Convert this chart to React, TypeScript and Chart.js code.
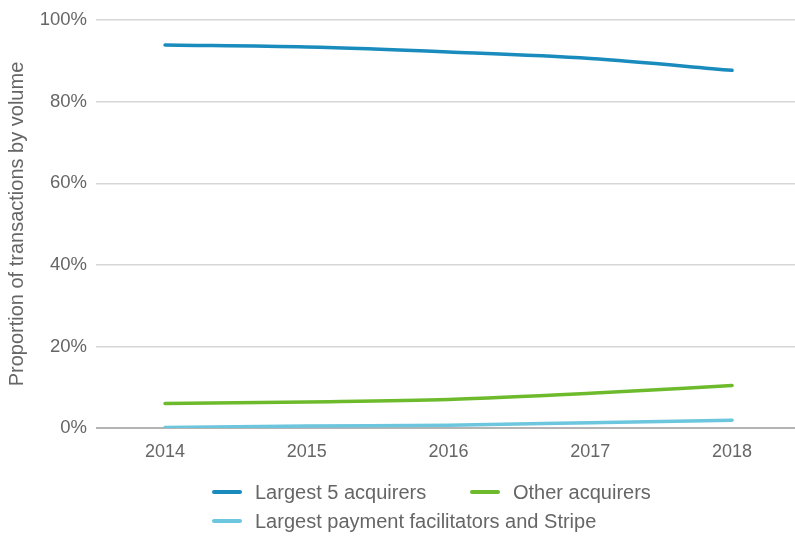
import React, { useEffect, useRef } from "react";
import { Chart, registerables } from "chart.js";

Chart.register(...registerables);

const years = [2014, 2015, 2016, 2017, 2018];
const largest5 = [93.9, 93.4, 92.2, 90.6, 87.7];
const otherAcq = [6.0, 6.4, 7.0, 8.5, 10.4];
const payFac = [0.1, 0.5, 0.7, 1.3, 1.9];
const yTicks = [0, 20, 40, 60, 80, 100];

const seriesNames = ["Largest 5 acquirers", "Other acquirers", "Largest payment facilitators and Stripe"];
const seriesColors = ["#1a8bbd", "#6dbb2c", "#6cc6de"];

const FONT = "'Liberation Sans', Arial, sans-serif";
const TEXT = "#666666";

export default function App() {
  const ref = useRef<HTMLCanvasElement | null>(null);

  useEffect(() => {
    document.body.style.margin = "0";
    const ctx = ref.current!;
    const values = [largest5, otherAcq, payFac];
    const chart = new Chart(ctx, {
      type: "line",
      data: {
        datasets: values.map((vals, i) => ({
          label: seriesNames[i],
          data: years.map((y, j) => ({ x: y, y: vals[j] })),
          borderColor: seriesColors[i],
          backgroundColor: seriesColors[i],
          borderWidth: 3.5,
          pointRadius: 0,
          cubicInterpolationMode: "monotone" as const,
          borderCapStyle: "round" as const,
        })),
      },
      options: {
        animation: false,
        responsive: false,
        maintainAspectRatio: false,
        layout: { padding: { top: 19, bottom: 70, left: 0, right: 0 } },
        plugins: { legend: { display: false }, tooltip: { enabled: false } },
        scales: {
          x: {
            type: "linear",
            min: 2013.513,
            max: 2018.444,
            afterBuildTicks: (s: any) => {
              s.ticks = years.map((v) => ({ value: v }));
            },
            afterFit: (s: any) => {
              s.height = 40;
            },
            grid: { display: false },
            border: { display: false },
            ticks: {
              callback: (v: any) => String(v),
              color: TEXT,
              font: { family: FONT, size: 18 },
              padding: 5,
              maxRotation: 0,
            },
          },
          y: {
            min: 0,
            max: 100,
            afterBuildTicks: (s: any) => {
              s.ticks = yTicks.map((v) => ({ value: v }));
            },
            afterFit: (s: any) => {
              s.width = 96;
            },
            border: { display: false },
            grid: {
              drawTicks: false,
              color: (c: any) => (c.tick && c.tick.value === 0 ? "#b4b4b4" : "#d6d6d6"),
              lineWidth: (c: any) => (c.tick && c.tick.value === 0 ? 2 : 1.5),
            },
            ticks: {
              callback: (v: any) => v + "%",
              color: TEXT,
              font: { family: FONT, size: 18.5 },
              padding: 9,
            },
            title: {
              display: true,
              text: "Proportion of transactions by volume",
              color: TEXT,
              font: { family: FONT, size: 20 },
              padding: { top: 5, bottom: 0 },
            },
          },
        },
      },
    });
    return () => chart.destroy();
  }, []);

  const legendItem = (i: number, left: number, top: number) => (
    <div
      key={i}
      style={{
        position: "absolute",
        left,
        top,
        height: 24,
        display: "flex",
        alignItems: "center",
        fontFamily: FONT,
        fontSize: 20,
        lineHeight: "24px",
        color: TEXT,
        whiteSpace: "nowrap",
      }}
    >
      <span
        style={{
          display: "inline-block",
          width: 30,
          height: 3.5,
          borderRadius: 2,
          background: seriesColors[i],
          marginRight: 13,
        }}
      />
      <span>{seriesNames[i]}</span>
    </div>
  );

  return (
    <div style={{ position: "relative", width: 795, height: 538, background: "#fff" }}>
      <canvas ref={ref} width={795} height={538} style={{ display: "block" }} />
      {legendItem(0, 212, 480)}
      {legendItem(1, 470, 480)}
      {legendItem(2, 212, 509)}
    </div>
  );
}
